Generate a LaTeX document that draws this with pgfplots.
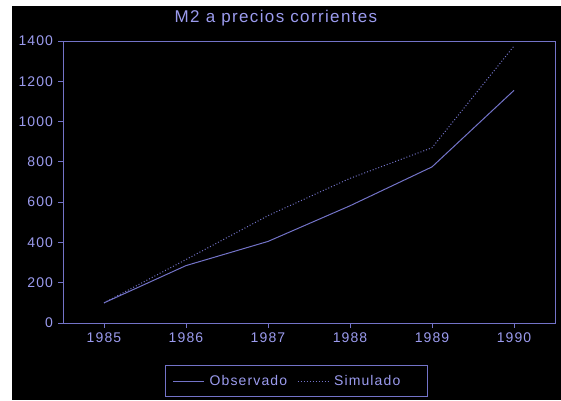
\documentclass[border=0pt]{standalone}
\usepackage{pgfplots}
\pgfplotsset{compat=1.18}
\usepackage{fontspec}
\setmainfont[LetterSpace=8]{Liberation Sans}
\definecolor{lav}{RGB}{155,155,238}
\definecolor{lavline}{RGB}{115,115,200}
\begin{document}
\begin{tikzpicture}
\fill[white] (0pt,0pt) rectangle (561pt,400pt);
\fill[black] (12pt,0pt) rectangle (561pt,394pt);
\node[text=lav, font=\fontsize{17}{19}\selectfont] at (276pt,382pt) {M2 a precios corrientes};
\begin{axis}[at={(63pt,77pt)}, anchor=south west, scale only axis, width=492pt, height=282pt,
  xmin=1984.5, xmax=1990.5, ymin=0, ymax=1400,
  xtick={1985,1986,1987,1988,1989,1990}, ytick={0,200,...,1400},
  axis line style={lavline, line width=1pt},
  every tick/.style={lavline, line width=1pt},
  tick align=outside, major tick length=5pt, tick pos=left,
  /pgf/number format/1000 sep={},
  /pgf/number format/assume math mode=true,
  ticklabel style={font=\fontsize{14}{16}\selectfont, text=lav},
  yticklabel style={xshift=-1.5pt},
  xticklabel style={yshift=-1pt},
  legend style={at={(axis description cs:0.4746,-0.2057)}, anchor=center, draw=lavline, line width=1pt, fill=black, text=lav, font=\fontsize{14}{16}\selectfont, inner xsep=7pt, inner ysep=8pt},
  legend columns=2,
  legend image code/.code={\draw[#1] (0pt,0pt) -- (31pt,0pt); \path (34pt,0pt);},
  legend cell align=left,
  /tikz/every even column/.append style={column sep=8pt},
]
\addplot[lavline, line width=1pt] coordinates {(1985,100)(1986,285)(1987,405)(1988,582)(1989,775)(1990,1155)};
\addlegendentry{Observado}
\addplot[lavline, line width=1pt, dash pattern=on 1pt off 2pt] coordinates {(1985,100)(1986,315)(1987,533)(1988,718)(1989,870)(1990,1375)};
\addlegendentry{Simulado\rule{18pt}{0pt}}
\end{axis}
\end{tikzpicture}
\end{document}
